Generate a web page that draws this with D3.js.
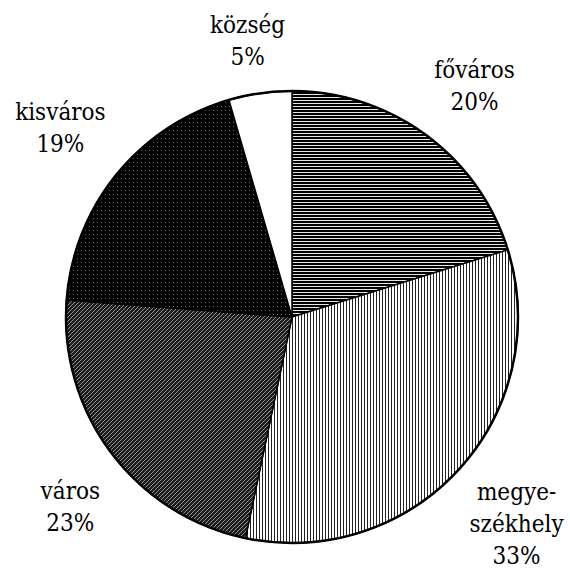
<!DOCTYPE html>
<html>
<head>
<meta charset="utf-8">
<script src="https://cdn.jsdelivr.net/npm/d3@7"></script>
<style>
  body { margin: 0; background: #fff; }
  svg { display: block; }
  text { font-family: "DejaVu Serif Condensed", "DejaVu Serif", serif; font-stretch: condensed; }
</style>
</head>
<body>
<div id="chart"></div>
<script>
// slice data, clockwise from 12 o'clock
var categories = ["főváros", "megyeszékhely", "város", "kisváros", "község"];
var values = [20.2, 33.1, 22.9, 19.3, 4.5];
var labelLines = [["főváros"], ["megye-", "székhely"], ["város"], ["kisváros"], ["község"]];
var fills = ["url(#pHoriz)", "url(#pVert)", "url(#pDiag)", "url(#pDots)", "#ffffff"];

var width = 570, height = 571;
var cx = 292, cy = 317, radius = 226;
var lineH = 32;

var svg = d3.select("#chart").append("svg")
    .attr("width", width)
    .attr("height", height);

var defs = svg.append("defs");

function tile(id, w, h, bg) {
    var p = defs.append("pattern")
        .attr("id", id)
        .attr("patternUnits", "userSpaceOnUse")
        .attr("width", w)
        .attr("height", h);
    p.append("rect").attr("width", w).attr("height", h).attr("fill", bg);
    return p;
}
function px(p, x, y, w, h, c) {
    p.append("rect").attr("x", x).attr("y", y).attr("width", w).attr("height", h)
        .attr("fill", c).attr("shape-rendering", "crispEdges");
}

var ph = tile("pHoriz", 3, 3, "#000");
px(ph, 0, 2, 3, 1, "#e6e6e6");

var pv = tile("pVert", 3, 3, "#fff");
px(pv, 0, 0, 1, 3, "#222");

var pd = tile("pDiag", 4, 4, "#1c1c1c");
px(pd, 3, 0, 1, 1, "#9a9a9a");
px(pd, 2, 1, 1, 1, "#8a8a8a");
px(pd, 1, 2, 1, 1, "#9a9a9a");
px(pd, 0, 3, 1, 1, "#8a8a8a");

var pk = tile("pDots", 4, 4, "#000");
px(pk, 1, 1, 1, 1, "#6a6a6a");

var pie = d3.pie().sort(null).value(function(d) { return d; });
var arcs = pie(values);
var arc = d3.arc().innerRadius(0).outerRadius(radius);

var g = svg.append("g").attr("transform", "translate(" + cx + "," + cy + ")");

g.selectAll("path.slice")
    .data(arcs)
    .enter()
    .append("path")
    .attr("class", "slice")
    .attr("d", arc)
    .attr("fill", function(d, i) { return fills[i]; })
    .attr("stroke", "#000")
    .attr("stroke-width", 1.5)
    .attr("stroke-linejoin", "round");

g.append("circle")
    .attr("r", radius)
    .attr("fill", "none")
    .attr("stroke", "#000")
    .attr("stroke-width", 2.5);

// labels outside the end of each slice
var labelR = 240;
function clamp(v) { return Math.max(-1, Math.min(1, v)); }

arcs.forEach(function(d, i) {
    var lines = labelLines[i].concat([Math.round(d.value) + "%"]);
    var t = svg.append("text")
        .attr("font-size", 24)
        .attr("fill", "#000")
        .attr("text-anchor", "middle");
    lines.forEach(function(s) {
        t.append("tspan").attr("x", 0).text(s);
    });
    var w = 0;
    t.selectAll("tspan").each(function() { w = Math.max(w, this.getComputedTextLength()); });
    var h = lines.length * lineH;
    var a = (d.startAngle + d.endAngle) / 2;
    var s = Math.sin(a), c = Math.cos(a);
    var bx = cx + labelR * s + (w / 2) * clamp(s * 2);
    var by = cy - labelR * c - (h / 2) * clamp(c * 2) + (c < 0 ? (s < 0 ? 14 : -3) : -6);
    t.selectAll("tspan")
        .attr("x", bx)
        .attr("y", function(_, j) { return by - h / 2 + lineH * j + 24; });
});
</script>
</body>
</html>
